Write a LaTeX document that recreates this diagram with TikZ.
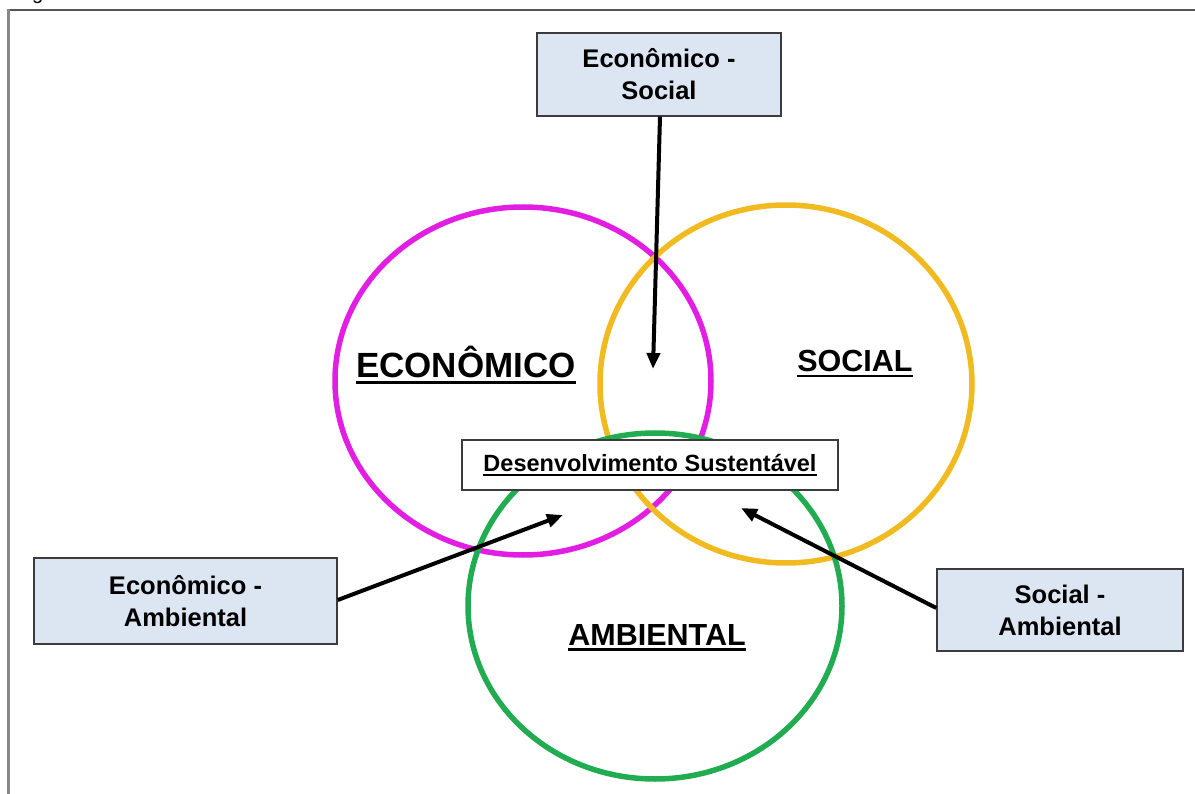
\documentclass[tikz,border=0pt]{standalone}
\usepackage{fontspec}
\setmainfont{Liberation Sans}
\usetikzlibrary{arrows.meta}

% underlined text: #1 rule thickness, #2 drop of the rule below the baseline, #3 text
\newcommand{\ulineby}[3]{\setbox0\hbox{#3}\leavevmode\rlap{\raisebox{-#2}{\rule{\wd0}{#1}}}\box0}

\definecolor{econcol}{RGB}{226,30,226}
\definecolor{soccol}{RGB}{240,186,32}
\definecolor{ambcol}{RGB}{34,172,82}
\definecolor{boxfill}{RGB}{220,230,242}
\definecolor{boxline}{RGB}{60,60,60}
\definecolor{framedark}{RGB}{85,85,85}
\definecolor{framelight}{RGB}{135,135,135}

\tikzset{
  sphere/.style={draw, line width=5.5pt},
  pairbox/.style={draw=boxline, line width=1.5pt, fill=boxfill, align=center,
    font=\bfseries\fontsize{25.5}{32}\selectfont, inner sep=0pt},
  centrebox/.style={draw=boxline, line width=1.5pt, fill=white, inner sep=0pt,
    font=\bfseries\fontsize{23.5}{28}\selectfont},
  biglabel/.style={anchor=base, inner sep=0pt},
  pointer/.style={line width=4pt, -{Triangle[length=16pt,width=13pt]}},
}

\begin{document}
\begin{tikzpicture}[x=1pt,y=-1pt]
\useasboundingbox (0,0) rectangle (1195,794);

% caption letter cut by the top edge
\node[anchor=base west, inner sep=0pt, font=\fontsize{20}{24}\selectfont] (caption) at (32,-0.5) {g};

% frame
\draw[framedark, line width=2pt] (8,10) -- (1200,10);
\draw[framelight, line width=3pt] (8,9) -- (8,800);

% the three dimensions
\draw[sphere, econcol] (523,381) ellipse [x radius=188, y radius=174];
\draw[sphere, soccol] (786,384) ellipse [x radius=186, y radius=179];
\draw[sphere, ambcol] (655,606) ellipse [x radius=187, y radius=173];

% dimension names
\node[biglabel, font=\bfseries\fontsize{35}{40}\selectfont] (econ) at (466,378) {\ulineby{3pt}{6pt}{ECONÔMICO}};
\node[biglabel, font=\bfseries\fontsize{30.5}{36}\selectfont] (soc) at (855,372) {\ulineby{2.6pt}{5.5pt}{SOCIAL}};
\node[biglabel, font=\bfseries\fontsize{30.5}{36}\selectfont] (amb) at (657,645) {\ulineby{2.6pt}{5.5pt}{AMBIENTAL}};

% centre
\node[centrebox, minimum width=376pt, minimum height=50pt] (ds) at (650,465) {\ulineby{2pt}{5pt}{Desenvolvimento Sustentável}};

% pairwise boxes
\node[pairbox, minimum width=244pt, minimum height=83pt] (es) at (659,74.5) {Econômico -\\Social};
\node[pairbox, minimum width=303pt, minimum height=86pt] (ea) at (185.5,601) {Econômico -\\Ambiental};
\node[pairbox, minimum width=246pt, minimum height=82pt] (sa) at (1060,610) {Social -\\Ambiental};

% intersection targets
\coordinate (esTip) at (653,369);
\coordinate (eaTip) at (563,515);
\coordinate (saTip) at (741,508);

% pointers
\draw[pointer] ([xshift=1pt]es.south) -- (esTip);
\draw[pointer] ([yshift=1pt]ea.east) -- (eaTip);
\draw[pointer] ([yshift=2pt]sa.west) -- (saTip);
\end{tikzpicture}
\end{document}
